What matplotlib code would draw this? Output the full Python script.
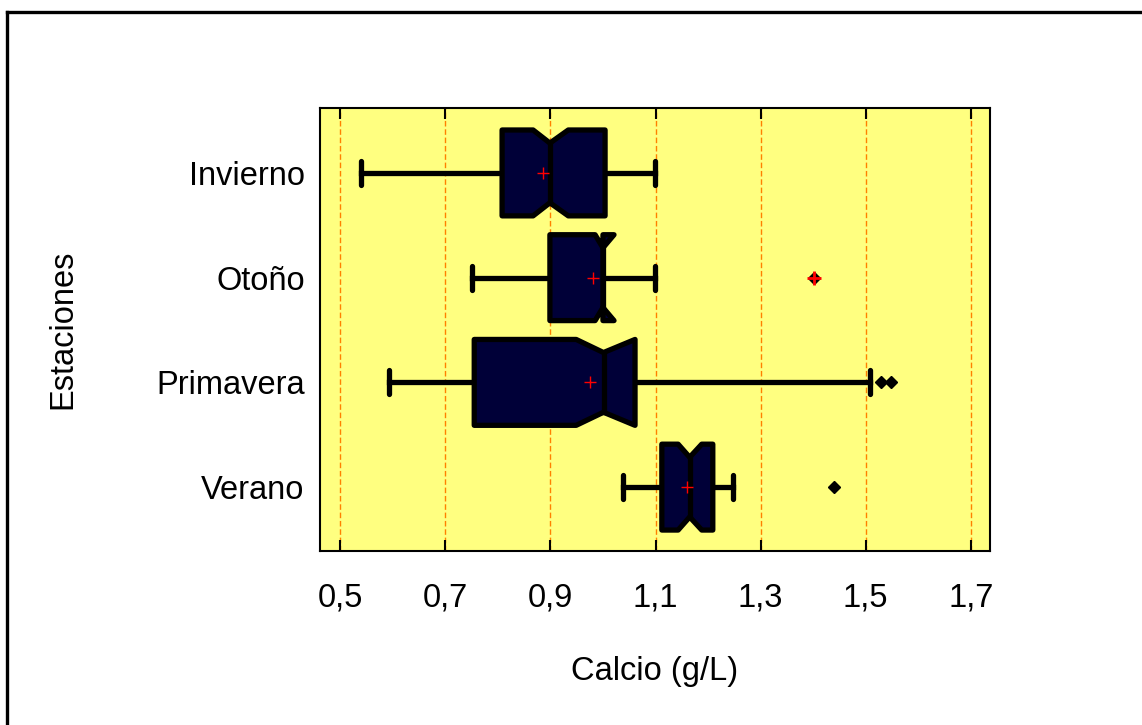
import matplotlib
matplotlib.use("Agg")
import matplotlib.pyplot as plt
from matplotlib.patches import Polygon
from matplotlib.lines import Line2D

plt.rcParams['font.family'] = ['Liberation Sans', 'DejaVu Sans']

# resumen de calcio por estación
categorias = ['Invierno', 'Otoño', 'Primavera', 'Verano']
bigote_inf = [0.540, 0.751, 0.593, 1.038]
q1 = [0.808, 0.899, 0.755, 1.112]
mediana = [0.899, 1.000, 1.001, 1.165]
q3 = [1.004, 1.000, 1.061, 1.209]
muesca_inf = [0.867, 0.985, 0.949, 1.143]
muesca_sup = [0.934, 1.021, 1.061, 1.188]
bigote_sup = [1.099, 1.099, 1.508, 1.247]
media = [0.886, 0.981, 0.975, 1.160]
atipicos = {'Otoño': [1.401], 'Primavera': [1.530, 1.549], 'Verano': [1.439]}
atipicos_lejanos = {'Otoño': [1.401]}

ticks_x = [0.5, 0.7, 0.9, 1.1, 1.3, 1.5, 1.7]

fig = plt.figure(figsize=(11.42, 7.25), dpi=100)
ax = fig.add_axes([320 / 1142, 1 - 551 / 725, 670 / 1142, 443 / 725])
ax.set_facecolor('#FFFF80')

h = 0.41      # media altura de la caja
hn = 0.285    # media altura en la muesca
hc = 0.115    # media altura de los topes
lw = 3.8

n = len(categorias)
for i, cat in enumerate(categorias):
    y = n - 1 - i
    # bigotes
    ax.plot([bigote_inf[i], q1[i]], [y, y], color='black', lw=lw, zorder=3)
    ax.plot([q3[i], bigote_sup[i]], [y, y], color='black', lw=lw, zorder=3)
    for xc in (bigote_inf[i], bigote_sup[i]):
        ax.plot([xc, xc], [y - hc, y + hc], color='black', lw=lw,
                solid_capstyle='round', zorder=3)
    # caja con muesca
    pts = [(q1[i], y + h), (muesca_inf[i], y + h), (mediana[i], y + hn),
           (muesca_sup[i], y + h), (q3[i], y + h), (q3[i], y - h),
           (muesca_sup[i], y - h), (mediana[i], y - hn), (muesca_inf[i], y - h),
           (q1[i], y - h)]
    ax.add_patch(Polygon(pts, closed=True, facecolor='#000038', edgecolor='black',
                         lw=lw, joinstyle='round', zorder=4))
    ax.plot([mediana[i], mediana[i]], [y - hn, y + hn], color='black', lw=lw, zorder=5)
    # media
    ax.plot(media[i], y, marker='+', color='red', ms=9, mew=1, zorder=6)
    # atípicos
    for v in atipicos.get(cat, []):
        ax.plot(v, y, marker='D', color='black', ms=6, zorder=6)
    for v in atipicos_lejanos.get(cat, []):
        ax.plot(v, y, marker='+', color='red', ms=10, mew=2, zorder=7)

ax.set_xlim(0.4615, 1.7365)
ax.set_ylim(-0.61, 3.62)
ax.set_xticks(ticks_x)
ax.set_xticklabels([('%.1f' % t).replace('.', ',') for t in ticks_x])
ax.set_yticks(range(n))
ax.set_yticklabels(categorias[::-1])
ax.tick_params(axis='x', direction='in', length=8, width=1.5, top=True,
               labelsize=23.5, pad=23)
ax.tick_params(axis='y', length=0, labelsize=23.5, pad=11)
ax.grid(axis='x', color='#FF8000', ls=(0, (4, 2)), lw=1, zorder=1)
ax.set_axisbelow(True)
for s in ax.spines.values():
    s.set_linewidth(1.5)

ax.set_xlabel('Calcio (g/L)', fontsize=23.5, labelpad=30)
ax.set_ylabel('Estaciones', fontsize=23.5, labelpad=56)

# marco exterior
fig.add_artist(Line2D([7 / 1142, 1.01], [1 - 12 / 725, 1 - 12 / 725],
                      transform=fig.transFigure, color='black', lw=2.4))
fig.add_artist(Line2D([7 / 1142, 7 / 1142], [-0.01, 1 - 12 / 725],
                      transform=fig.transFigure, color='black', lw=2.4))

fig.savefig('out.png', dpi=100)
